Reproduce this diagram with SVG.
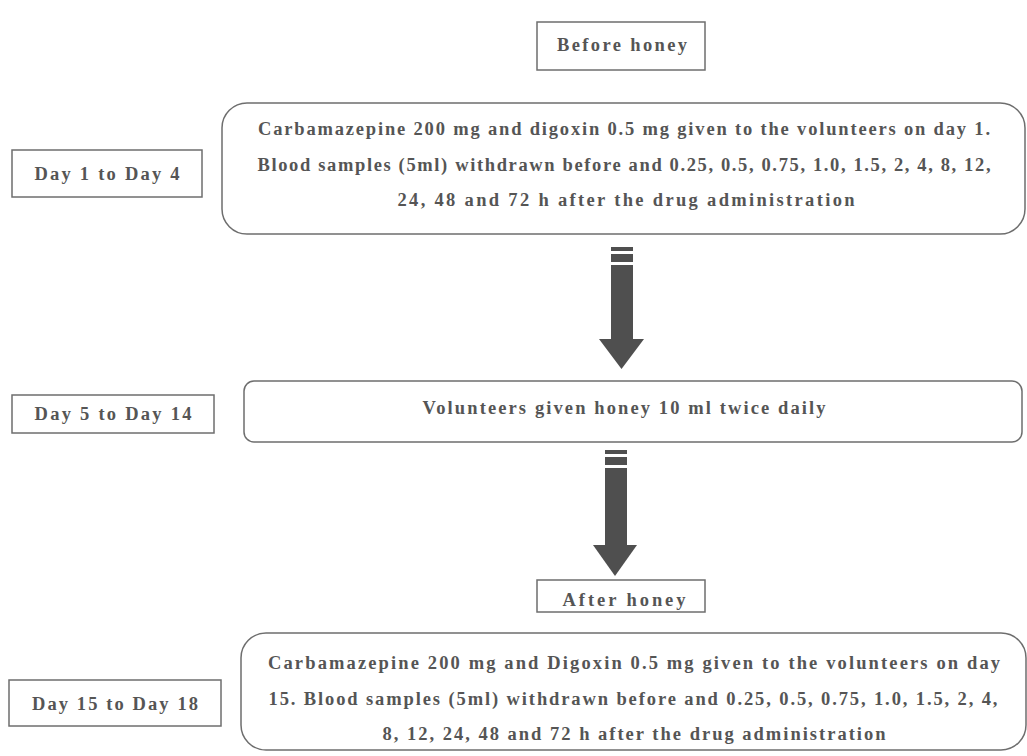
<svg xmlns="http://www.w3.org/2000/svg" width="1027" height="756" viewBox="0 0 1027 756">
<style>
.box{fill:#fff;stroke:#6e6e6e;stroke-width:1.5}
.t{font-family:"Liberation Serif","Times New Roman",serif;font-weight:bold;font-size:18.5px;fill:#555;text-anchor:middle}
.arr{fill:#4f4f4f}
</style>
<rect width="1027" height="756" fill="#fff"/>
<g id="before-honey"><rect class="box" x="537" y="22" width="168" height="48"/><text class="t" x="622" y="51" textLength="130" lengthAdjust="spacing">Before honey</text></g>
<g id="day1-4"><rect class="box" x="12" y="150" width="190" height="47"/><text class="t" x="107" y="180" textLength="145" lengthAdjust="spacing">Day 1 to Day 4</text></g>
<g id="step1"><rect class="box" x="222" y="103" width="803" height="131" rx="25"/>
<text class="t" x="624" y="135" textLength="732" lengthAdjust="spacing">Carbamazepine 200 mg and digoxin 0.5 mg given to the volunteers on day 1.</text>
<text class="t" x="624" y="171" textLength="733" lengthAdjust="spacing">Blood samples (5ml) withdrawn before and 0.25, 0.5, 0.75, 1.0, 1.5, 2, 4, 8, 12,</text>
<text class="t" x="626" y="206" textLength="457" lengthAdjust="spacing">24, 48 and 72 h after the drug administration</text></g>
<g id="day5-14"><rect class="box" x="12" y="395" width="202" height="38"/><text class="t" x="113" y="420" textLength="157" lengthAdjust="spacing">Day 5 to Day 14</text></g>
<g id="step2"><rect class="box" x="244" y="381" width="778" height="61" rx="10"/><text class="t" x="624" y="414" textLength="403" lengthAdjust="spacing">Volunteers given honey 10 ml twice daily</text></g>
<g id="after-honey"><rect class="box" x="537" y="580" width="168" height="32"/><text class="t" x="624" y="606" textLength="123" lengthAdjust="spacing">After honey</text></g>
<g id="day15-18"><rect class="box" x="9" y="680" width="212" height="46"/><text class="t" x="115" y="710" textLength="166" lengthAdjust="spacing">Day 15 to Day 18</text></g>
<g id="step3"><rect class="box" x="241" y="633" width="785" height="117" rx="25"/>
<text class="t" x="634" y="669" textLength="732" lengthAdjust="spacing">Carbamazepine 200 mg and Digoxin 0.5 mg given to the volunteers on day</text>
<text class="t" x="633" y="705" textLength="729" lengthAdjust="spacing">15. Blood samples (5ml) withdrawn before and 0.25, 0.5, 0.75, 1.0, 1.5, 2, 4,</text>
<text class="t" x="634" y="740" textLength="503" lengthAdjust="spacing">8, 12, 24, 48 and 72 h after the drug administration</text></g>
<g id="connectors">
<g class="arr"><rect x="611" y="247" width="22" height="4"/><rect x="611" y="254" width="22" height="8"/><rect x="611" y="265" width="22" height="75"/><polygon points="599,339 644,339 621.5,369"/></g>
<g class="arr"><rect x="605" y="450" width="22" height="4"/><rect x="605" y="457" width="22" height="8"/><rect x="605" y="468" width="22" height="78"/><polygon points="593,545 637,545 615,576"/></g>
</g>
</svg>
